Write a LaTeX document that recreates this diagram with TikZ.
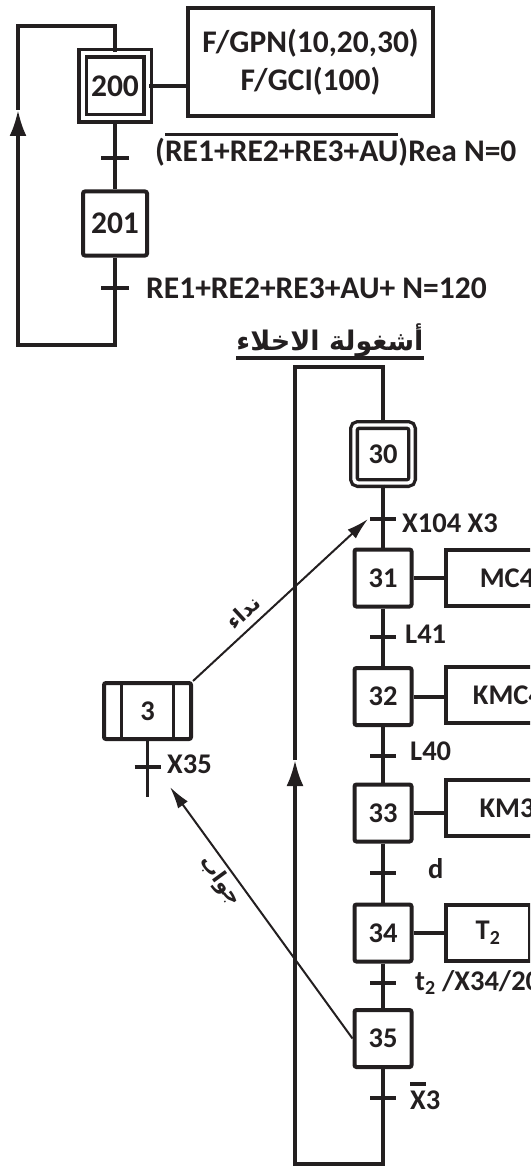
\documentclass[tikz,border=0pt]{standalone}
\usepackage{fontspec}
\setmainfont{Carlito}
\newfontfamily\arabicfont[Script=Arabic]{DejaVu Sans}
\TeXXeTstate=1
\usetikzlibrary{arrows.meta,positioning}
\definecolor{grafInk}{HTML}{231F20}
\newcommand{\barover}[1]{\leavevmode\vbox{\hrule height 3.5pt\kern 5pt\hbox{#1}}}
\tikzset{
  every picture/.style={font=\bfseries\fontsize{28.5}{34}\selectfont, text=grafInk},
  graf big/.style={font=\bfseries\fontsize{31.5}{38}\selectfont},
  graf step/.style={draw=grafInk, line width=4pt, rounded corners=2pt,
    minimum size=57pt, inner sep=0pt},
  graf init/.style={graf step, double, double distance=4pt, line width=3.5pt},
  graf action/.style={draw=grafInk, line width=4pt, minimum height=56pt,
    inner sep=0pt, anchor=west},
  graf link/.style={draw=grafInk, line width=3.5pt},
  graf tick/.style={draw=grafInk, line width=4.5pt},
  graf loop/.style={graf link, -{Latex[length=26pt,width=17pt]}},
  graf sync/.style={draw=grafInk, line width=2pt, -{Latex[length=22pt,width=12pt]}},
  graf cond/.style={anchor=base west, inner sep=0pt},
  graf ar/.style={font=\arabicfont\bfseries\fontsize{21}{24}\selectfont, inner sep=3pt}
}
\begin{document}
\begin{tikzpicture}[x=1pt,y=-1pt]
  \useasboundingbox (0,0) rectangle (530,1169);
  \clip (0,0) rectangle (530,1169);

  \node[graf init, sharp corners, minimum size=65pt, graf big] (s200) at (115,86) {200};
  \node[graf step, minimum size=64pt, graf big] (s201) at (115,223.5) {201};
  \node[graf action, anchor=center, minimum width=245pt, minimum height=108pt,
    align=center, graf big] (a200) at (310.5,62) {F/GPN(10,20,30)\\F/GCI(100)};
  \coordinate (t200) at (115,158);
  \coordinate (t201) at (115,288);
  \coordinate (top200) at (115,26);
  \coordinate (bot201) at (115,345);
  \coordinate (lc1) at (18,345);
  \coordinate (lc2) at (18,26);
  \coordinate (arr1) at (18,110);
  \draw[graf link] (s200.east) -- (s200.east -| a200.west);
  \draw[graf link] (s200) -- (s201);
  \draw[graf loop] (s201.south) -- (bot201) -- (lc1) -- (arr1);
  \draw[graf link] (arr1) -- (lc2) -- (top200) -- (s200.north);
  \foreach \t in {t200,t201}
    \draw[graf tick] ([xshift=-14pt]\t) -- ([xshift=14pt]\t);
  \node[graf cond, graf big] (c200) at (155,162) {(\barover{RE1+RE2+RE3+AU})Rea N=0};
  \node[graf cond, graf big] (c201) at (146,298) {RE1+RE2+RE3+AU+ N=120};

  \node[inner sep=0pt, anchor=base, font=\arabicfont\bfseries\fontsize{27}{30}\selectfont]
    (title) at (330,350) {\beginR أشغولة الاخلاء\endR};
  \draw[graf link] ([yshift=-8pt]title.base west) -- ([yshift=-8pt]title.base east);

  \node[graf init, rounded corners=4pt, minimum size=58pt, line width=3.3pt,
    double distance=3.4pt] (s30) at (383,454) {30};
  \node[graf step] (s31) at (383,578) {31};
  \node[graf step] (s32) at (383,696.5) {32};
  \node[graf step] (s33) at (383,813) {33};
  \node[graf step] (s34) at (383,933) {34};
  \node[graf step] (s35) at (383,1038.5) {35};
  \node[graf action, minimum width=122pt] (a31) at (444,578) {MC4};
  \node[graf action, minimum width=124pt] (a32) at (444,695) {KMC4};
  \node[graf action, minimum width=122pt] (a33) at (444,808) {KM3};
  \node[graf action, minimum width=84pt] (a34) at (444,933) {T\textsubscript{2}};
  \foreach \s in {31,32,33,34}
    \draw[graf link, line width=4pt] (s\s.east) -- (s\s.east -| a\s.west);
  \foreach \a/\b in {s30/s31, s31/s32, s32/s33, s33/s34, s34/s35}
    \draw[graf link] (\a) -- (\b);

  \node[graf step, minimum width=87pt, minimum height=56pt] (m3) at (147.5,711) {3};
  \draw[graf link, line width=3pt] ([xshift=-26pt]m3.north) -- ([xshift=-26pt]m3.south);
  \draw[graf link, line width=3pt] ([xshift=26pt]m3.north) -- ([xshift=26pt]m3.south);
  \coordinate (tm3) at (147.5,767);
  \coordinate (m3end) at (147.5,797);
  \draw[graf link] (m3.south) -- (m3end);

  \coordinate (t30) at (383,519);
  \coordinate (t31) at (383,637);
  \coordinate (t32) at (383,756);
  \coordinate (t33) at (383,873);
  \coordinate (t34) at (383,983);
  \coordinate (t35) at (383,1098);
  \foreach \t in {t30,t31,t32,t33,t34,t35,tm3}
    \draw[graf tick] ([xshift=-13pt]\t) -- ([xshift=13pt]\t);
  \node[graf cond] (c30) at (402,532) {X104 X3};
  \node[graf cond] (c31) at (405,643) {L41};
  \node[graf cond] (c32) at (410,760) {L40};
  \node[graf cond] (c33) at (428,878) {d};
  \node[graf cond] (c34) at (415,990) {t\textsubscript{2} /X34/20};
  \node[graf cond] (c35) at (410,1109) {\barover{X}3};
  \node[graf cond] (cm3) at (167,773) {X35};

  \coordinate (top30) at (383,367);
  \coordinate (lc3) at (295,367);
  \coordinate (lc4) at (295,1164);
  \coordinate (bot35) at (383,1164);
  \coordinate (arr2) at (295,760);
  \draw[graf loop] (s35.south) -- (bot35) -- (lc4) -- (arr2);
  \draw[graf link] (arr2) -- (lc3) -- (top30) -- (s30.north);

  \coordinate (callTip) at (368,519);
  \coordinate (replyTip) at (170,787);
  \draw[graf sync] (m3.north east) -- node[pos=0.35, sloped, above=4pt, graf ar] (lcall)
    {\beginR نداء\endR} (callTip);
  \draw[graf sync] (s35.west) -- node[pos=0.66, sloped, below, graf ar] (lreply)
    {\beginR جواب\endR} (replyTip);
\end{tikzpicture}
\end{document}
